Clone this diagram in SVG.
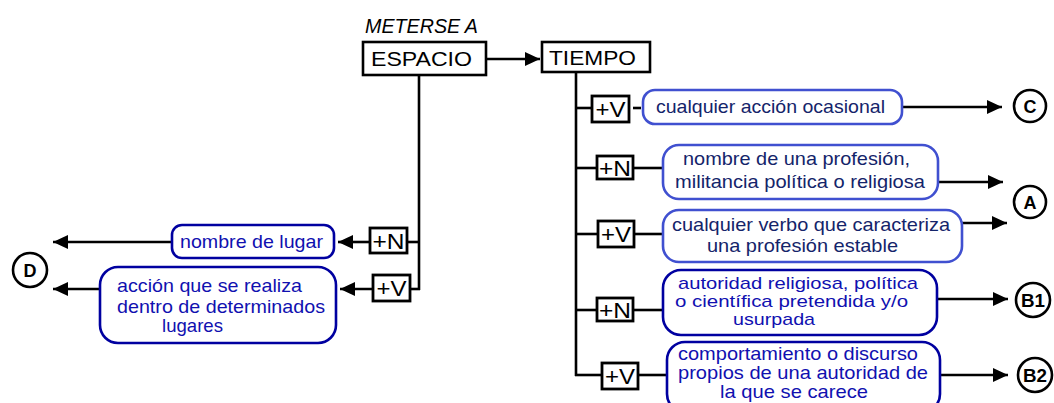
<svg xmlns="http://www.w3.org/2000/svg" width="1054" height="403" viewBox="0 0 1054 403">
<style>
text{font-family:"Liberation Sans",Arial,sans-serif;}
.ln{stroke:#000;stroke-width:2.6;fill:none;}
.arr{stroke:#000;stroke-width:2.6;fill:none;marker-end:url(#ah);}
.sq{fill:#fff;stroke:#000;stroke-width:2.8;}
.sqt{font-size:22px;fill:#000;text-anchor:middle;}
.big{font-size:21px;fill:#000;}
.rb1{fill:#fff;stroke:#4050d0;stroke-width:2.6;}
.rb2{fill:#fff;stroke:#0000a0;stroke-width:2.6;}
.t1{font-size:19px;fill:#14246a;}
.t2{font-size:19px;fill:#1010b0;}
.t3{font-size:17px;fill:#1010b0;}
.cir{fill:#fff;stroke:#000;stroke-width:2.6;}
.ct{font-size:18px;font-weight:bold;fill:#000;text-anchor:middle;}
</style>
<defs>
<marker id="ah" markerUnits="userSpaceOnUse" markerWidth="16" markerHeight="16" viewBox="0 0 16 16" refX="15" refY="8" orient="auto">
<path d="M0,1 L15,8 L0,15 Z" fill="#000"/>
</marker>
</defs>

<text x="365" y="33" font-size="19.5" font-style="italic" fill="#000" textLength="113" lengthAdjust="spacingAndGlyphs">METERSE A</text>

<g id="connectors">
<line class="arr" x1="486" y1="59" x2="540" y2="59"/>
<line class="ln" x1="419" y1="75" x2="419" y2="290"/>
<line class="ln" x1="407" y1="242" x2="419" y2="242"/>
<line class="ln" x1="410" y1="289" x2="420" y2="289"/>
<line class="arr" x1="370" y1="242" x2="338" y2="242"/>
<line class="arr" x1="373" y1="289" x2="340" y2="289"/>
<line class="arr" x1="172" y1="242" x2="53" y2="242"/>
<line class="arr" x1="100" y1="289" x2="53" y2="289"/>
<line class="ln" x1="576" y1="72" x2="576" y2="376"/>
<line class="ln" x1="575" y1="108" x2="592" y2="108"/>
<line class="ln" x1="633" y1="108" x2="641" y2="108"/>
<line class="ln" x1="575" y1="168" x2="597" y2="168"/>
<line class="ln" x1="633" y1="168" x2="663" y2="168"/>
<line class="ln" x1="575" y1="234" x2="598" y2="234"/>
<line class="ln" x1="634" y1="234" x2="663" y2="234"/>
<line class="ln" x1="575" y1="310" x2="597" y2="310"/>
<line class="ln" x1="633" y1="310" x2="663" y2="310"/>
<line class="ln" x1="575" y1="375" x2="602" y2="375"/>
<line class="ln" x1="638" y1="375" x2="667" y2="375"/>
<line class="arr" x1="902" y1="107" x2="1002" y2="107"/>
<line class="arr" x1="938" y1="182" x2="1003" y2="182"/>
<line class="arr" x1="962" y1="223" x2="1007" y2="223"/>
<line class="arr" x1="937" y1="299" x2="1008" y2="299"/>
<line class="arr" x1="940" y1="375" x2="1008" y2="375"/>
</g>

<g id="espacio">
<rect x="363" y="42" width="123" height="33" fill="#fff" stroke="#000" stroke-width="2.6"/>
<text class="big" x="371" y="66" textLength="101" lengthAdjust="spacingAndGlyphs">ESPACIO</text>
</g>
<g id="tiempo">
<rect x="542" y="42" width="108" height="30" fill="#fff" stroke="#000" stroke-width="2.6"/>
<text class="big" x="549" y="65" textLength="87" lengthAdjust="spacingAndGlyphs">TIEMPO</text>
</g>

<g id="lN">
<rect class="sq" x="370" y="228" width="37" height="25"/>
<text class="sqt" x="388.5" y="249" textLength="32" lengthAdjust="spacingAndGlyphs">+N</text>
</g>
<g id="lV">
<rect class="sq" x="373" y="275" width="37" height="26"/>
<text class="sqt" x="391.5" y="296" textLength="30" lengthAdjust="spacingAndGlyphs">+V</text>
</g>
<g id="lugar">
<rect class="rb2" x="172" y="225" width="162" height="33" rx="10"/>
<text class="t2" x="180" y="248" textLength="143" lengthAdjust="spacingAndGlyphs">nombre de lugar</text>
</g>
<g id="accion">
<rect class="rb2" x="100" y="267" width="236" height="76" rx="18"/>
<text class="t2" x="117" y="292" textLength="185" lengthAdjust="spacingAndGlyphs">acción que se realiza</text>
<text class="t2" x="117" y="313" textLength="208" lengthAdjust="spacingAndGlyphs">dentro de determinados</text>
<text class="t2" x="162" y="332" textLength="61" lengthAdjust="spacingAndGlyphs">lugares</text>
</g>
<g id="D">
<circle class="cir" cx="30" cy="270" r="17"/>
<text class="ct" x="30" y="276.5">D</text>
</g>

<g id="r1V">
<rect class="sq" x="592" y="96" width="37" height="26"/>
<text class="sqt" x="610.5" y="117" textLength="30" lengthAdjust="spacingAndGlyphs">+V</text>
</g>
<g id="r2N">
<rect class="sq" x="597" y="156" width="36" height="23"/>
<text class="sqt" x="615" y="176" textLength="32" lengthAdjust="spacingAndGlyphs">+N</text>
</g>
<g id="r3V">
<rect class="sq" x="598" y="221" width="36" height="26"/>
<text class="sqt" x="616" y="242" textLength="30" lengthAdjust="spacingAndGlyphs">+V</text>
</g>
<g id="r4N">
<rect class="sq" x="597" y="298" width="36" height="23"/>
<text class="sqt" x="615" y="318" textLength="32" lengthAdjust="spacingAndGlyphs">+N</text>
</g>
<g id="r5V">
<rect class="sq" x="602" y="363" width="36" height="26"/>
<text class="sqt" x="620" y="384" textLength="30" lengthAdjust="spacingAndGlyphs">+V</text>
</g>

<g id="b1">
<rect class="rb1" x="643" y="90" width="259" height="34" rx="12"/>
<text class="t1" x="656" y="113" textLength="229" lengthAdjust="spacingAndGlyphs">cualquier acción ocasional</text>
</g>
<g id="b2">
<rect class="rb1" x="663" y="145" width="275" height="54" rx="16"/>
<text class="t1" x="683" y="165" textLength="227" lengthAdjust="spacingAndGlyphs">nombre de una profesión,</text>
<text class="t1" x="675" y="188" textLength="250" lengthAdjust="spacingAndGlyphs">militancia política o religiosa</text>
</g>
<g id="b3">
<rect class="rb1" x="663" y="210" width="299" height="52" rx="16"/>
<text class="t1" x="672" y="231" textLength="278" lengthAdjust="spacingAndGlyphs">cualquier verbo que caracteriza</text>
<text class="t1" x="707" y="252" textLength="191" lengthAdjust="spacingAndGlyphs">una profesión estable</text>
</g>
<g id="b4">
<rect class="rb2" x="663" y="270" width="274" height="65" rx="18"/>
<text class="t3" x="678" y="289" textLength="240" lengthAdjust="spacingAndGlyphs">autoridad religiosa, política</text>
<text class="t3" x="675" y="307" textLength="233" lengthAdjust="spacingAndGlyphs">o científica pretendida y/o</text>
<text class="t3" x="733" y="325" textLength="82" lengthAdjust="spacingAndGlyphs">usurpada</text>
</g>
<g id="b5">
<rect class="rb2" x="667" y="342" width="273" height="70" rx="18"/>
<text class="t2" x="678" y="360" textLength="240" lengthAdjust="spacingAndGlyphs">comportamiento o discurso</text>
<text class="t2" x="678" y="379" textLength="250" lengthAdjust="spacingAndGlyphs">propios de una autoridad de</text>
<text class="t2" x="720" y="398" textLength="148" lengthAdjust="spacingAndGlyphs">la que se carece</text>
</g>

<g id="C">
<circle class="cir" cx="1030" cy="106" r="16"/>
<text class="ct" x="1030" y="112.5">C</text>
</g>
<g id="A">
<circle class="cir" cx="1030" cy="202" r="16"/>
<text class="ct" x="1030" y="208.5">A</text>
</g>
<g id="B1">
<circle class="cir" cx="1033" cy="300" r="17"/>
<text class="ct" x="1033" y="306.5" textLength="24" lengthAdjust="spacingAndGlyphs">B1</text>
</g>
<g id="B2">
<circle class="cir" cx="1035" cy="375" r="17"/>
<text class="ct" x="1035" y="381.5" textLength="24" lengthAdjust="spacingAndGlyphs">B2</text>
</g>
</svg>
